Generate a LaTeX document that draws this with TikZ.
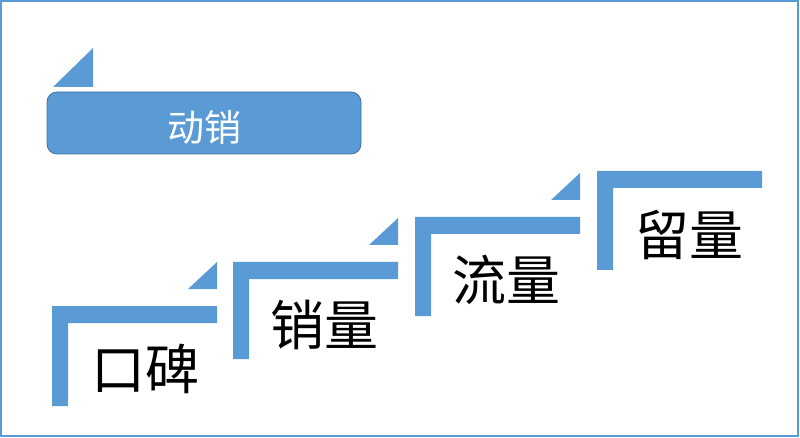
\documentclass[tikz,border=0pt]{standalone}
\usepackage{fontspec}
\newfontfamily\cjk{Noto Sans CJK SC}
\definecolor{stepblue}{HTML}{5B9BD5}
\definecolor{edgeblue}{HTML}{41719C}
\begin{document}
\begin{tikzpicture}[x=1pt,y=-1pt,
  stepfill/.style={fill=stepblue},
  steplabel/.style={font=\cjk\fontsize{54}{54}\selectfont, text=black, inner sep=0pt},
  headbox/.style={draw=edgeblue, line width=0.8pt, fill=stepblue, rounded corners=10pt},
  headtext/.style={font=\cjk\fontsize{37}{37}\selectfont, text=white, inner sep=0pt}]
\useasboundingbox (0,0) rectangle (800,438);
\draw[stepblue, line width=2pt] (1,1) rectangle (798,436);
% top triangle and header box
\fill[stepblue] (53,87) -- (93,48) -- (93,87) -- cycle;
\draw[headbox] (47,92) rectangle (361,154);
\node[headtext] (head) at (204,127) {动销};
% steps: x0, top, bottom
\foreach \x/\t/\b in {52/306/406, 233/262/359, 415/217/316, 597/171/270}{
  \fill[stepfill] (\x,\t) -- (\x+165,\t) -- (\x+165,\t+17) -- (\x+16,\t+17) -- (\x+16,\b) -- (\x,\b) -- cycle;
}
\foreach \x/\t in {52/306, 233/262, 415/217}{
  \fill[stepfill] (\x+136,\t-17) -- (\x+165,\t-44) -- (\x+165,\t-17) -- cycle;
}
\node[steplabel] (s1) at (145,369) {口碑};
\node[steplabel] (s2) at (324,325) {销量};
\node[steplabel] (s3) at (506,280) {流量};
\node[steplabel] (s4) at (689,235) {留量};
\end{tikzpicture}
\end{document}
